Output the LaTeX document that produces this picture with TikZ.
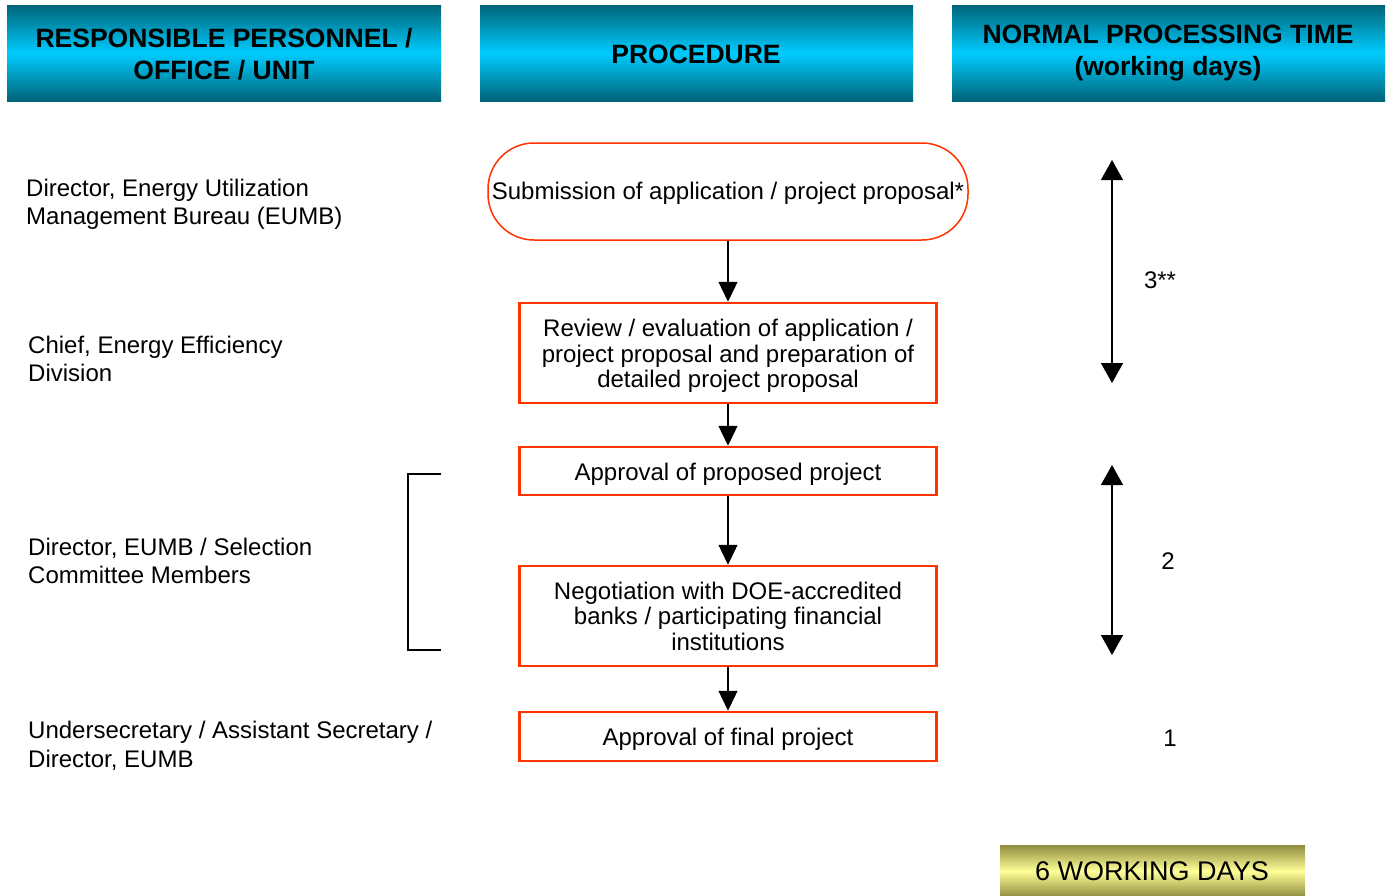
\documentclass[tikz,border=0pt]{standalone}
\usepackage{fontspec}
\setmainfont{Liberation Sans}
\usetikzlibrary{arrows.meta,shapes.misc}
\definecolor{hdark}{HTML}{006478}
\definecolor{hlight}{HTML}{00CCFF}
\definecolor{ydark}{HTML}{8E8C3E}
\definecolor{ylight}{HTML}{FFFF99}
\definecolor{ored}{HTML}{FF3300}
\newcommand{\shiftdn}[2]{\raisebox{-#1}[\height][\depth]{#2}}
\begin{document}
\begin{tikzpicture}[x=1pt,y=-1pt,
 hdrbox/.style={top color=hdark, bottom color=hdark, middle color=hlight, minimum width=434pt, minimum height=96pt, inner sep=0pt},
 hdr/.style={font=\fontsize{26.5}{32}\selectfont\bfseries, align=center, inner sep=0pt},
 proc/.style={draw=ored, line width=2.5pt, minimum width=417pt, align=center, font=\fontsize{24}{25.5}\selectfont, inner sep=0pt},
 lbl/.style={anchor=west, align=left, font=\fontsize{24}{28.5}\selectfont, inner sep=0pt},
 num/.style={font=\fontsize{24}{26}\selectfont, inner sep=0pt},
 flow/.style={-{Triangle[width=19pt,length=20pt]}, line width=1.3pt},
 spanarr/.style={{Triangle[width=22pt,length=20pt]}-{Triangle[width=22pt,length=20pt]}, line width=1.5pt}]
\useasboundingbox (0,0) rectangle (1389,895);
% headers
\node[hdrbox] (h1) at (224,53) {};
\node[hdrbox, minimum width=433pt] (h2) at (696.5,53) {};
\node[hdrbox, minimum width=433pt] (h3) at (1168.5,53) {};
\node[hdr] (t1) at (224,54) {RESPONSIBLE PERSONNEL /\\OFFICE / UNIT};
\node[hdr] (t2) at (696,54) {PROCEDURE};
\node[hdr] (t3) at (1168,53) {NORMAL PROCESSING TIME\\(working days)};
% procedure
\node[draw=ored, line width=1.5pt, rounded corners=46pt, minimum width=480pt, minimum height=97pt, inner sep=0pt, font=\fontsize{24}{25.5}\selectfont] (p1) at (728,191.5) {\shiftdn{2pt}{Submission of application / project proposal*}};
\node[proc, minimum height=100pt] (p2) at (728,353) {\shiftdn{3pt}{\parbox{400pt}{\centering Review / evaluation of application /\\project proposal and preparation of\\detailed project proposal}}};
\node[proc, minimum height=48pt] (p3) at (728,471) {\shiftdn{3pt}{Approval of proposed project}};
\node[proc, minimum height=100pt] (p4) at (728,616) {\parbox{400pt}{\centering Negotiation with DOE-accredited\\banks / participating financial\\institutions}};
\node[proc, minimum height=49pt] (p5) at (728,736.5) {\shiftdn{3pt}{Approval of final project}};
\draw[flow] (p1.south) -- (p2.north);
\draw[flow] (p2.south) -- (p3.north);
\draw[flow] (p3.south) -- (p4.north);
\draw[flow] (p4.south) -- (p5.north);
% left labels
\node[lbl] (l1) at (26,204.5) {Director, Energy Utilization\\Management Bureau (EUMB)};
\node[lbl] (l2) at (28,359) {Chief, Energy Efficiency\\Division};
\node[lbl] (l3) at (28,561) {Director, EUMB / Selection\\Committee Members};
\node[lbl] (l4) at (28,746) {Undersecretary / Assistant Secretary /\\Director, EUMB};
% bracket
\coordinate (b1) at (441,474);
\coordinate (b2) at (441,650);
\draw[line width=1.5pt] (b1) -- (408,474) -- (408,650) -- (b2);
% time spans
\coordinate (a1) at (1112,160);
\coordinate (a2) at (1112,383);
\coordinate (a3) at (1112,465);
\coordinate (a4) at (1112,655);
\draw[spanarr] (a1) -- (a2);
\draw[spanarr] (a3) -- (a4);
\node[num] (n1) at (1160,280) {3**};
\node[num] (n2) at (1168,561) {2};
\node[num] (n3) at (1170,738) {1};
% total
\node[top color=ydark, bottom color=ydark, middle color=ylight, minimum width=305pt, minimum height=52pt, inner sep=0pt] (tot) at (1152.5,871) {};
\node[font=\fontsize{27}{30}\selectfont, inner sep=0pt] (tott) at (1152,871) {6 WORKING DAYS};
\end{tikzpicture}
\end{document}
